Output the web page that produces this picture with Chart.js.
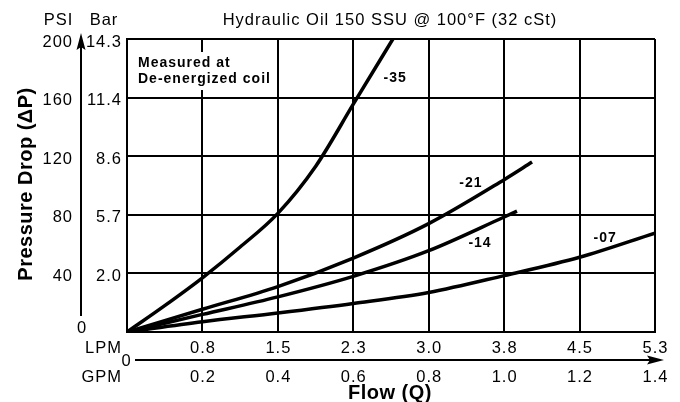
<!DOCTYPE html>
<html>
<head>
<meta charset="utf-8">
<script src="https://cdn.jsdelivr.net/npm/chart.js@4.4.1/dist/chart.umd.min.js"></script>
<style>
  html, body { margin: 0; padding: 0; background: #fff; }
  #wrap { width: 680px; height: 402px; position: relative; }
</style>
</head>
<body>
<div id="wrap"><canvas id="grafico" width="680" height="402"></canvas></div>
<script>
// eixos
const gpmTicks = [0, 0.2, 0.4, 0.6, 0.8, 1.0, 1.2, 1.4];
const gpmLabels = ["", "0.2", "0.4", "0.6", "0.8", "1.0", "1.2", "1.4"];
const lpmLabels = ["", "0.8", "1.5", "2.3", "3.0", "3.8", "4.5", "5.3"];
const psiTicks = [0, 40, 80, 120, 160, 200];
const psiLabels = ["", "40", "80", "120", "160", "200"];
const barLabels = ["", "2.0", "5.7", "8.6", "11.4", "14.3"];

// curvas (GPM, PSI)
const flow35 = [0, 0.1, 0.2, 0.3, 0.4, 0.5, 0.6, 0.705];
const psi35 = [0, 18, 37, 58, 81, 113, 155.5, 200];
const flow21 = [0, 0.2, 0.4, 0.6, 0.8, 1.0, 1.074];
const psi21 = [0, 15.5, 31, 50.5, 74, 104, 116];
const flow14 = [0, 0.2, 0.4, 0.6, 0.8, 1.0, 1.034];
const psi14 = [0, 12, 24, 38, 55.5, 78.5, 82.5];
const flow07 = [0, 0.2, 0.4, 0.6, 0.8, 1.0, 1.2, 1.4];
const psi07 = [0, 7, 13, 19.5, 27, 38.5, 51, 67.5];

const curveNames = ["-35", "-21", "-14", "-07"];
const nameAtFlow = [0.711, 0.912, 0.936, 1.268];
const nameAtPsi = [174.7, 102.4, 62.1, 65.5];

const FONT = "'Liberation Sans', Arial, sans-serif";

function pontos(xs, ys) {
  return xs.map((x, i) => ({ x: x, y: ys[i] }));
}

function serie(xs, ys) {
  return {
    data: pontos(xs, ys),
    borderColor: "#000",
    borderWidth: 3.5,
    pointRadius: 0,
    showLine: true,
    fill: false,
    cubicInterpolationMode: "monotone",
  };
}

const desenhos = {
  id: "desenhos",
  beforeDatasetsDraw(chart) {
    const ctx = chart.ctx;
    // caixa "Measured at"
    ctx.save();
    ctx.fillStyle = "#fff";
    ctx.fillRect(136, 52, 136, 38);
    ctx.fillStyle = "#000";
    ctx.font = "bold 14px " + FONT;
    ctx.letterSpacing = "1px";
    ctx.textAlign = "left";
    ctx.textBaseline = "alphabetic";
    ctx.fillText("Measured at", 138, 66.5);
    ctx.fillText("De-energized coil", 138, 82.5);
    ctx.restore();
  },
  afterDatasetsDraw(chart) {
    const ctx = chart.ctx;
    const xs = chart.scales.x, ys = chart.scales.y;
    ctx.save();
    ctx.fillStyle = "#000";
    ctx.strokeStyle = "#000";

    // nomes das curvas
    ctx.font = "bold 14px " + FONT;
    ctx.letterSpacing = "1px";
    ctx.textAlign = "center";
    ctx.textBaseline = "alphabetic";
    curveNames.forEach((n, i) => {
      ctx.fillText(n, xs.getPixelForValue(nameAtFlow[i]), ys.getPixelForValue(nameAtPsi[i]) + 5.5);
    });

    // rótulos do eixo Y
    ctx.font = "16.5px " + FONT;
    psiTicks.forEach((v, i) => {
      const y = ys.getPixelForValue(v);
      ctx.textAlign = "right";
      ctx.fillText(psiLabels[i], 73, y + 7.5);
      ctx.fillText(barLabels[i], 122, y + 7.5);
    });
    ctx.textAlign = "center";
    ctx.fillText("0", 82, 333);
    ctx.fillText("PSI", 58.5, 25);
    ctx.fillText("Bar", 104, 25);
    ctx.fillText("Hydraulic Oil 150 SSU @ 100°F (32 cSt)", 390, 25);

    // rótulos do eixo X
    gpmTicks.forEach((v, i) => {
      const x = xs.getPixelForValue(v);
      ctx.fillText(lpmLabels[i], x + 0.5, 353);
      ctx.fillText(gpmLabels[i], x + 0.5, 382);
    });
    ctx.textAlign = "right";
    ctx.fillText("LPM", 122, 353);
    ctx.fillText("GPM", 122, 382);
    ctx.textAlign = "center";
    ctx.fillText("0", 126.5, 366);

    // seta Y
    ctx.lineWidth = 2;
    ctx.beginPath();
    ctx.moveTo(81, 316);
    ctx.lineTo(81, 44);
    ctx.stroke();
    ctx.beginPath();
    ctx.moveTo(81, 33);
    ctx.lineTo(85.5, 50);
    ctx.lineTo(81, 47);
    ctx.lineTo(76.5, 50);
    ctx.closePath();
    ctx.fill();

    // seta X
    ctx.beginPath();
    ctx.moveTo(135, 360);
    ctx.lineTo(655, 360);
    ctx.stroke();
    ctx.beginPath();
    ctx.moveTo(664, 360);
    ctx.lineTo(647, 355.5);
    ctx.lineTo(650, 360);
    ctx.lineTo(647, 364.5);
    ctx.closePath();
    ctx.fill();

    // títulos dos eixos
    ctx.font = "bold 20px " + FONT;
    ctx.letterSpacing = "0.5px";
    ctx.textAlign = "center";
    ctx.fillText("Flow (Q)", 390, 399);
    ctx.translate(32, 184);
    ctx.rotate(-Math.PI / 2);
    ctx.fillText("Pressure Drop (\u0394P)", 0, 0);
    ctx.restore();
  },
};

new Chart(document.getElementById("grafico"), {
  type: "scatter",
  data: {
    datasets: [
      serie(flow35, psi35),
      serie(flow21, psi21),
      serie(flow14, psi14),
      serie(flow07, psi07),
    ],
  },
  options: {
    responsive: false,
    animation: false,
    events: [],
    layout: { padding: { left: 127, right: 25, top: 39, bottom: 70 } },
    plugins: { legend: { display: false }, tooltip: { enabled: false } },
    scales: {
      x: {
        type: "linear",
        min: 0,
        max: 1.4,
        ticks: { display: false, stepSize: 0.2 },
        grid: { color: "#000", lineWidth: 2, drawTicks: false },
        border: { color: "#000", width: 2 },
      },
      y: {
        type: "linear",
        min: 0,
        max: 200,
        ticks: { display: false, stepSize: 40 },
        grid: { color: "#000", lineWidth: 2, drawTicks: false },
        border: { color: "#000", width: 2 },
      },
    },
  },
  plugins: [desenhos],
});
</script>
</body>
</html>
